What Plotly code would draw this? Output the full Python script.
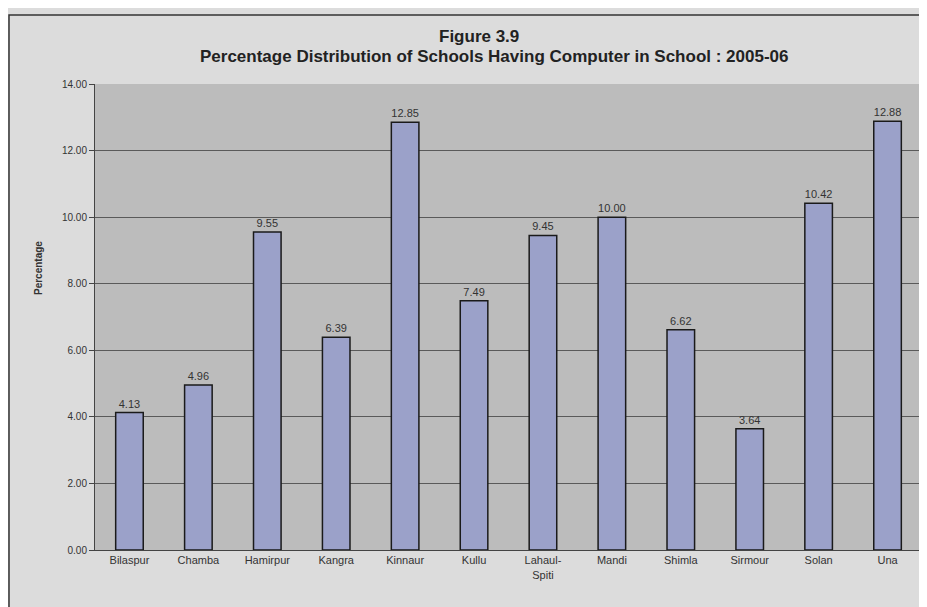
import plotly.graph_objects as go

districts = ["Bilaspur", "Chamba", "Hamirpur", "Kangra", "Kinnaur", "Kullu",
             "Lahaul-<br>Spiti", "Mandi", "Shimla", "Sirmour", "Solan", "Una"]
percent = [4.13, 4.96, 9.55, 6.39, 12.85, 7.49, 9.45, 10.00, 6.62, 3.64, 10.42, 12.88]
y_ticks = [0, 2, 4, 6, 8, 10, 12, 14]

fig = go.Figure()
fig.add_trace(go.Bar(
    x=districts, y=percent,
    text=[f"{v:.2f}" for v in percent],
    textposition="outside",
    textfont=dict(family="Liberation Sans, Arial", size=11, color="#333333"),
    marker=dict(color="#9ba1c9", line=dict(color="#1a1a1a", width=1.5)),
    width=0.4, cliponaxis=False,
))

fig.update_layout(
    width=919, height=599,
    paper_bgcolor="#dcdcdc", plot_bgcolor="#bcbcbc",
    margin=dict(l=87, r=5, t=76, b=57, autoexpand=False),
    font=dict(family="Liberation Sans, Arial", size=11, color="#333333"),
    showlegend=False,
    bargap=0.6,
)
title_font = dict(family="Liberation Sans, Arial", size=17, color="#222222")
fig.add_annotation(text="<b>Figure 3.9</b>", xref="paper", yref="paper",
                   x=0.4643, y=1.101, xanchor="center", yanchor="middle",
                   showarrow=False, font=title_font)
fig.add_annotation(text="<b>Percentage Distribution of Schools Having Computer in School : 2005-06</b>",
                   xref="paper", yref="paper", x=0.483, y=1.058,
                   xanchor="center", yanchor="middle", showarrow=False, font=title_font)
fig.add_annotation(text="<b>Percentage</b>", xref="paper", yref="paper",
                   x=-0.069, y=0.605, xanchor="center", yanchor="middle",
                   showarrow=False, textangle=-90,
                   font=dict(family="Liberation Sans, Arial", size=10, color="#333333"))
fig.update_yaxes(
    range=[0, 14], tickvals=y_ticks, ticktext=[f"{v:.2f}" for v in y_ticks],
    showgrid=True, gridcolor="#5a5a5a", gridwidth=1,
    showline=True, linecolor="#444444", linewidth=1,
    ticks="outside", ticklen=5, tickcolor="#444444",
    tickfont=dict(size=10),
    zeroline=False, automargin=False,
)
fig.update_xaxes(
    showline=True, linecolor="#444444", linewidth=1,
    ticks="", tickfont=dict(size=11), automargin=False,
)
fig.add_shape(type="rect", xref="paper", yref="paper",
              x0=-0.104, x1=1.02, y0=-0.14, y1=1.148,
              line=dict(color="#333333", width=1.5), fillcolor="rgba(0,0,0,0)", layer="below")

fig.write_html("out.html")
